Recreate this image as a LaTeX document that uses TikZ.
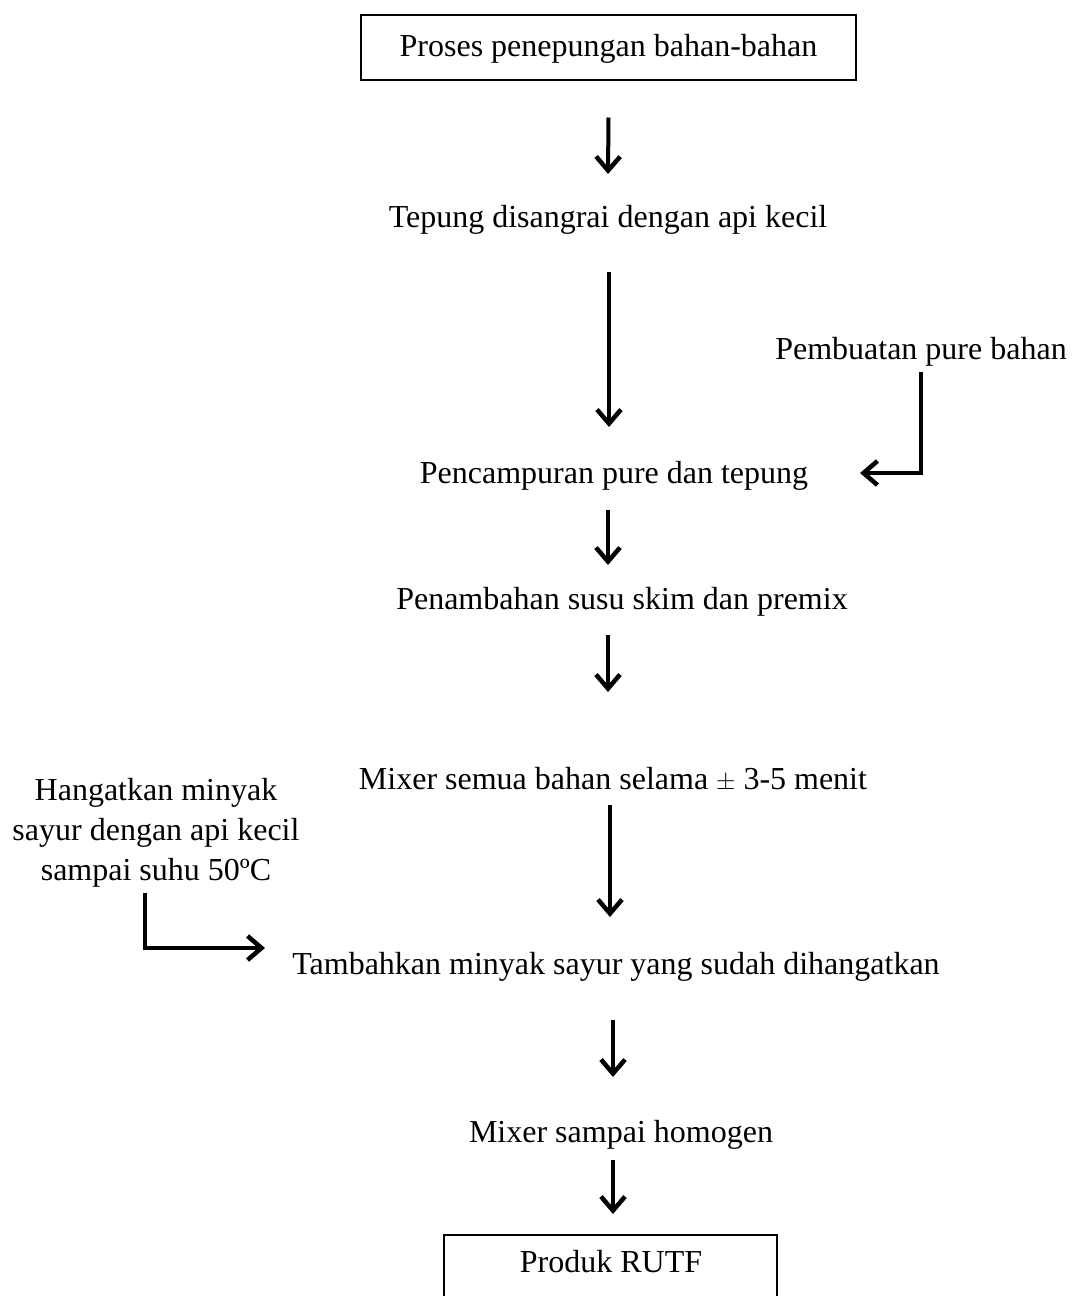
\documentclass[tikz,border=0pt]{standalone}
\usepackage{fontspec}
\setmainfont{Liberation Serif}
\usetikzlibrary{arrows.meta,calc}
\tikzset{
  lbl/.style={inner sep=0pt, text height=22pt, text depth=7pt, font=\fontsize{32}{40}\selectfont},
  boxed/.style={draw, line width=2pt, inner sep=0pt, text height=22pt, text depth=5pt, font=\fontsize{32}{40}\selectfont},
  arr/.style={line width=4pt, -{Straight Barb[length=14pt,width=24pt,line width=4.5pt]}},
  plain/.style={line width=4pt}
}
\begin{document}
\begin{tikzpicture}[x=1pt,y=-1pt]
\useasboundingbox (0,0) rectangle (1073,1296);
\node[boxed, minimum width=495pt, minimum height=65pt] (n1) at (608.5,47.5) {Proses penepungan bahan-bahan};
\node[lbl] (n2) at (608,220) {Tepung disangrai dengan api kecil};
\node[lbl] (pb) at (921,352) {Pembuatan pure bahan};
\node[lbl] (n3) at (614,476) {Pencampuran pure dan tepung};
\node[lbl] (n4) at (622,602) {Penambahan susu skim dan premix};
\node[lbl] (n5) at (613,782) {Mixer semua bahan selama $\pm$ 3-5 menit};
\node[inner sep=0pt, align=center, font=\fontsize{32}{40}\selectfont] (hm) at (156,833) {Hangatkan minyak\\sayur dengan api kecil\\sampai suhu 50ºC};
\node[lbl] (n6) at (616,967) {Tambahkan minyak sayur yang sudah dihangatkan};
\node[lbl] (n7) at (621,1135) {Mixer sampai homogen};
\node[draw, line width=2pt, minimum width=333pt, minimum height=130pt, anchor=north] (n8) at (610.5,1234) {};
\node[lbl] (n8t) at (611,1265) {Produk RUTF};
\draw[arr] ($(n1)+(0,70)$) -- ($(n2)+(0,-46)$);
\draw[arr] ($(n2)+(1,52)$) -- ($(n3)+(-5,-49)$);
\draw[plain] ($(pb)+(0,20)$) -- ($(pb)+(0,123)$);
\draw[arr] ($(pb)+(2,121)$) -- ($(n3)+(246,-3)$);
\draw[arr] ($(n3)+(-6,34)$) -- ($(n4)+(-14,-37)$);
\draw[arr] ($(n4)+(-14,33)$) -- ($(n5)+(-5,-90)$);
\draw[arr] ($(n5)+(-3,23)$) -- ($(n6)+(-6,-50)$);
\draw[plain] ($(hm)+(-11,60)$) -- ($(hm)+(-11,115)$);
\draw[arr] ($(hm)+(-13,115)$) -- ($(n6)+(-351,-19)$);
\draw[arr] ($(n6)+(-3,53)$) -- ($(n7)+(-8,-58)$);
\draw[arr] ($(n7)+(-8,25)$) -- ($(n8.north)+(2.5,-20)$);
\end{tikzpicture}
\end{document}
